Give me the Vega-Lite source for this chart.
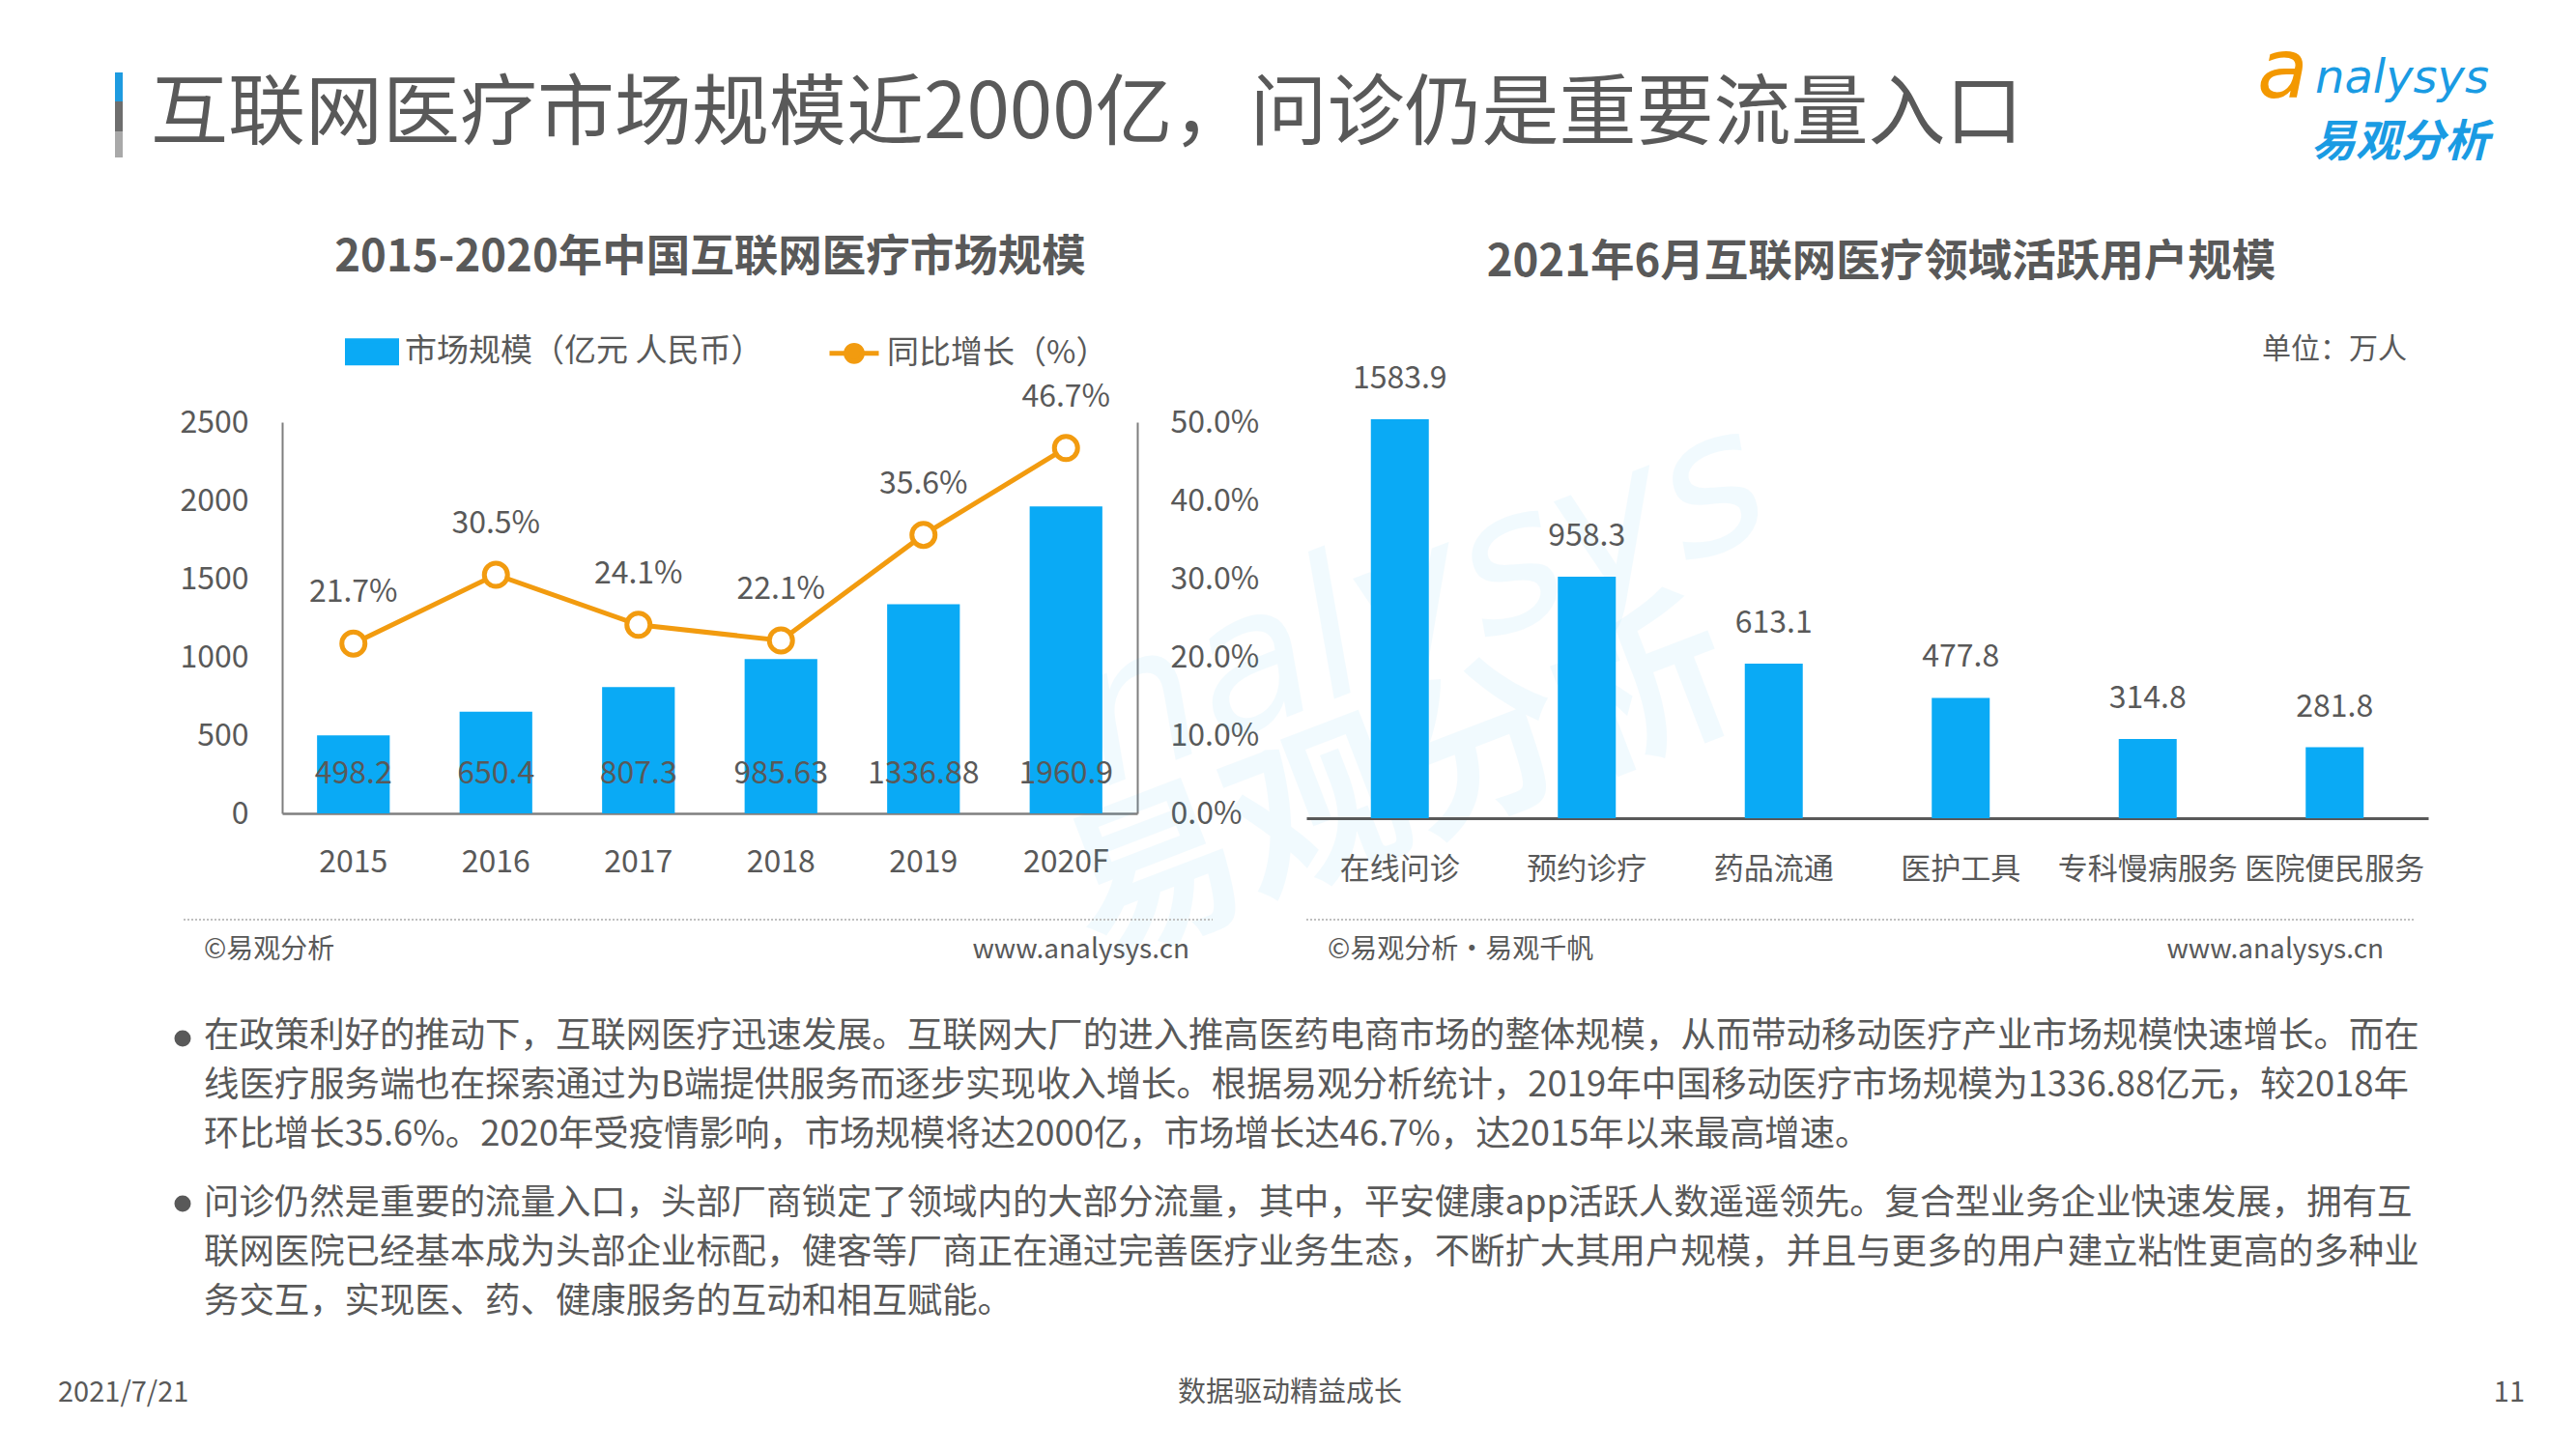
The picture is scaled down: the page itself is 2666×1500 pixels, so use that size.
{
  "$schema": "https://vega.github.io/schema/vega-lite/v6.json",
  "padding": 0,
  "background": "white",
  "bounds": "flush",
  "spacing": 175,
  "config": {
    "view": {"stroke": null},
    "font": "Noto Sans CJK SC",
    "text": {"font": "Noto Sans CJK SC", "color": "#595959"},
    "axis": {"labelFont": "Noto Sans CJK SC", "grid": false, "ticks": false, "title": null, "zindex": 1, "labelLimit": 0}
  },
  "datasets": {
    "market": [
      {"year": "2015", "size": 498.2, "growth": 0.217},
      {"year": "2016", "size": 650.4, "growth": 0.305},
      {"year": "2017", "size": 807.3, "growth": 0.241},
      {"year": "2018", "size": 985.63, "growth": 0.221},
      {"year": "2019", "size": 1336.88, "growth": 0.356},
      {"year": "2020F", "size": 1960.9, "growth": 0.467}
    ],
    "users": [
      {"cat": "在线问诊", "users": 1583.9},
      {"cat": "预约诊疗", "users": 958.3},
      {"cat": "药品流通", "users": 613.1},
      {"cat": "医护工具", "users": 477.8},
      {"cat": "专科慢病服务", "users": 314.8},
      {"cat": "医院便民服务", "users": 281.8}
    ],
    "one": [{"k": 1}]
  },
  "hconcat": [
    {
      "width": 885,
      "height": 405,
      "layer": [
        {"data": {"name": "one"}, "mark": {"type": "rect", "color": "white", "opacity": 0}, "encoding": {"x": {"value": -292}, "x2": {"value": 2374}, "y": {"value": -437}, "y2": {"value": 1063}}},
        {"data": {"name": "one"}, "mark": {"type": "text", "align": "center", "baseline": "middle", "fontSize": 200, "fontStyle": "italic", "color": "#0AAAF5", "opacity": 0.05, "angle": 339, "font": "DejaVu Sans"},
         "encoding": {"x": {"value": 1178}, "y": {"value": 188}, "text": {"value": "nalysys"}}},
        {"data": {"name": "one"}, "mark": {"type": "text", "align": "center", "baseline": "middle", "fontSize": 180, "fontWeight": "bold", "color": "#0AAAF5", "opacity": 0.05, "angle": 339},
         "encoding": {"x": {"value": 1158}, "y": {"value": 378}, "text": {"value": "易观分析"}}},
        {
          "data": {"name": "market"},
          "encoding": {
            "x": {
              "field": "year", "type": "ordinal", "sort": null,
              "scale": {"paddingInner": 0.49, "paddingOuter": 0.245},
              "axis": {"labelAngle": 0, "labelPadding": 35, "labelFontSize": 32, "labelColor": "#595959", "domainColor": "#7F7F7F", "domainWidth": 2.5}
            },
            "y": {
              "field": "size", "type": "quantitative",
              "scale": {"domain": [0, 2500]},
              "axis": {"values": [0, 500, 1000, 1500, 2000, 2500], "format": "d", "labelPadding": 35, "labelFontSize": 32, "labelColor": "#595959", "domainColor": "#7F7F7F", "domainWidth": 2}
            }
          },
          "layer": [
            {
              "mark": {"type": "bar"},
              "encoding": {
                "color": {
                  "datum": "市场规模（亿元 人民币）",
                  "scale": {"domain": ["市场规模（亿元 人民币）", "同比增长（%）"], "range": ["#0AAAF5", "#F29B0F"]},
                  "legend": {
                    "title": null, "orient": "none", "legendX": 65, "legendY": -101, "direction": "horizontal",
                    "symbolSize": 2601, "labelFontSize": 33, "labelColor": "#595959", "labelFont": "Noto Sans CJK SC", "labelLimit": 0,
                    "columnPadding": 58, "labelOffset": 6, "padding": 0, "symbolStrokeWidth": 5,
                    "encode": {
                      "symbols": {
                        "update": {
                          "shape": {"signal": "datum.value === '同比增长（%）' ? 'M-1,0H-0.33M0.33,0H1M0.33,0A0.33,0.33 0 1,1 -0.33,0A0.33,0.33 0 1,1 0.33,0' : 'M-1,-0.45H1V0.45H-1Z'"},
                          "fill": {"signal": "datum.value === '同比增长（%）' ? 'white' : '#0AAAF5'"},
                          "stroke": {"signal": "datum.value === '同比增长（%）' ? '#F29B0F' : 'transparent'"},
                          "strokeWidth": {"value": 5},
                          "opacity": {"value": 1}
                        }
                      }
                    }
                  }
                }
              }
            },
            {
              "mark": {"type": "text", "fontSize": 32, "color": "#595959", "baseline": "middle"},
              "encoding": {"y": {"datum": 253}, "text": {"field": "size", "type": "nominal"}}
            }
          ]
        },
        {
          "data": {"name": "market"},
          "encoding": {
            "x": {"field": "year", "type": "ordinal", "sort": null},
            "y": {
              "field": "growth", "type": "quantitative",
              "scale": {"domain": [0, 0.5]},
              "axis": {"orient": "right", "values": [0, 0.1, 0.2, 0.3, 0.4, 0.5], "format": ".1%", "labelPadding": 34, "labelFontSize": 32, "labelColor": "#595959", "domainColor": "#7F7F7F", "domainWidth": 2}
            }
          },
          "layer": [
            {"mark": {"type": "line", "strokeWidth": 5}, "encoding": {"color": {"datum": "同比增长（%）"}}},
            {"mark": {"type": "point", "shape": "circle", "size": 576, "strokeWidth": 5, "filled": false, "fill": "white", "opacity": 1}, "encoding": {"color": {"datum": "同比增长（%）"}}},
            {"mark": {"type": "text", "fontSize": 32, "color": "#595959", "baseline": "middle", "dy": -53}, "encoding": {"text": {"field": "growth", "type": "quantitative", "format": ".1%"}}}
          ]
        },
        {"data": {"name": "one"}, "mark": {"type": "rect", "color": "#1E9BE0"}, "encoding": {"x": {"value": -173}, "x2": {"value": -165}, "y": {"value": -362}, "y2": {"value": -332}}},
        {"data": {"name": "one"}, "mark": {"type": "rect", "color": "#6E6E6E"}, "encoding": {"x": {"value": -173}, "x2": {"value": -165}, "y": {"value": -332}, "y2": {"value": -301}}},
        {"data": {"name": "one"}, "mark": {"type": "rect", "color": "#A9A9A9"}, "encoding": {"x": {"value": -173}, "x2": {"value": -165}, "y": {"value": -301}, "y2": {"value": -274}}},
        {"data": {"name": "one"}, "mark": {"type": "text", "align": "left", "baseline": "middle", "fontSize": 80, "color": "#595959"},
         "encoding": {"x": {"value": -136}, "y": {"value": -318}, "text": {"value": "互联网医疗市场规模近2000亿，问诊仍是重要流量入口"}}},
        {"data": {"name": "one"}, "mark": {"type": "text", "align": "left", "baseline": "middle", "fontSize": 86, "fontStyle": "italic", "color": "#F39800", "font": "DejaVu Sans"},
         "encoding": {"x": {"value": 2044}, "y": {"value": -362}, "text": {"value": "a"}}},
        {"data": {"name": "one"}, "mark": {"type": "text", "align": "left", "baseline": "middle", "fontSize": 48, "fontStyle": "italic", "color": "#1A9BE3", "font": "DejaVu Sans"},
         "encoding": {"x": {"value": 2104}, "y": {"value": -355}, "text": {"value": "nalysys"}}},
        {"data": {"name": "one"}, "mark": {"type": "text", "align": "left", "baseline": "middle", "fontSize": 46, "fontWeight": "bold", "fontStyle": "italic", "color": "#1A9BE3"},
         "encoding": {"x": {"value": 2100}, "y": {"value": -289}, "text": {"value": "易观分析"}}},
        {"data": {"name": "one"}, "mark": {"type": "text", "align": "center", "baseline": "middle", "fontSize": 45.5, "fontWeight": "bold", "color": "#595959"},
         "encoding": {"x": {"value": 443}, "y": {"value": -170}, "text": {"value": "2015-2020年中国互联网医疗市场规模"}}},
        {"data": {"name": "one"}, "mark": {"type": "text", "align": "center", "baseline": "middle", "fontSize": 45.5, "fontWeight": "bold", "color": "#595959"},
         "encoding": {"x": {"value": 1655}, "y": {"value": -165}, "text": {"value": "2021年6月互联网医疗领域活跃用户规模"}}},
        {"data": {"name": "one"}, "mark": {"type": "text", "align": "right", "baseline": "middle", "fontSize": 30, "color": "#595959"},
         "encoding": {"x": {"value": 2199}, "y": {"value": -75}, "text": {"value": "单位：万人"}}},
        {"data": {"name": "one"}, "mark": {"type": "rule", "color": "#BFBFBF", "strokeWidth": 2, "strokeDash": [2, 2]}, "encoding": {"x": {"value": -102}, "x2": {"value": 963}, "y": {"value": 515}}},
        {"data": {"name": "one"}, "mark": {"type": "rule", "color": "#BFBFBF", "strokeWidth": 2, "strokeDash": [2, 2]}, "encoding": {"x": {"value": 1060}, "x2": {"value": 2208}, "y": {"value": 515}}},
        {"data": {"name": "one"}, "mark": {"type": "text", "align": "left", "baseline": "middle", "fontSize": 28, "color": "#595959"}, "encoding": {"x": {"value": -81}, "y": {"value": 547}, "text": {"value": "©易观分析"}}},
        {"data": {"name": "one"}, "mark": {"type": "text", "align": "right", "baseline": "middle", "fontSize": 28, "color": "#595959"}, "encoding": {"x": {"value": 939}, "y": {"value": 547}, "text": {"value": "www.analysys.cn"}}},
        {"data": {"name": "one"}, "mark": {"type": "text", "align": "left", "baseline": "middle", "fontSize": 28, "color": "#595959"}, "encoding": {"x": {"value": 1082}, "y": {"value": 547}, "text": {"value": "©易观分析・易观千帆"}}},
        {"data": {"name": "one"}, "mark": {"type": "text", "align": "right", "baseline": "middle", "fontSize": 28, "color": "#595959"}, "encoding": {"x": {"value": 2175}, "y": {"value": 547}, "text": {"value": "www.analysys.cn"}}},
        {"data": {"name": "one"}, "mark": {"type": "point", "shape": "circle", "filled": true, "size": 289, "color": "#595959", "opacity": 1}, "encoding": {"x": {"value": -103}, "y": {"value": 638}}},
        {"data": {"name": "one"}, "mark": {"type": "point", "shape": "circle", "filled": true, "size": 289, "color": "#595959", "opacity": 1}, "encoding": {"x": {"value": -103}, "y": {"value": 809}}},
        {"data": {"name": "one"}, "mark": {"type": "text", "align": "left", "baseline": "middle", "fontSize": 36.4, "lineHeight": 51, "color": "#595959"},
         "encoding": {"x": {"value": -81}, "y": {"value": 636}, "text": {"value": ["在政策利好的推动下，互联网医疗迅速发展。互联网大厂的进入推高医药电商市场的整体规模，从而带动移动医疗产业市场规模快速增长。而在", "线医疗服务端也在探索通过为B端提供服务而逐步实现收入增长。根据易观分析统计，2019年中国移动医疗市场规模为1336.88亿元，较2018年", "环比增长35.6%。2020年受疫情影响，市场规模将达2000亿，市场增长达46.7%，达2015年以来最高增速。"]}}},
        {"data": {"name": "one"}, "mark": {"type": "text", "align": "left", "baseline": "middle", "fontSize": 36.4, "lineHeight": 51, "color": "#595959"},
         "encoding": {"x": {"value": -81}, "y": {"value": 809}, "text": {"value": ["问诊仍然是重要的流量入口，头部厂商锁定了领域内的大部分流量，其中，平安健康app活跃人数遥遥领先。复合型业务企业快速发展，拥有互", "联网医院已经基本成为头部企业标配，健客等厂商正在通过完善医疗业务生态，不断扩大其用户规模，并且与更多的用户建立粘性更高的多种业", "务交互，实现医、药、健康服务的互动和相互赋能。"]}}},
        {"data": {"name": "one"}, "mark": {"type": "text", "align": "left", "baseline": "middle", "fontSize": 29, "color": "#595959"}, "encoding": {"x": {"value": -232}, "y": {"value": 1005}, "text": {"value": "2021/7/21"}}},
        {"data": {"name": "one"}, "mark": {"type": "text", "align": "center", "baseline": "middle", "fontSize": 29, "color": "#595959"}, "encoding": {"x": {"value": 1043}, "y": {"value": 1005}, "text": {"value": "数据驱动精益成长"}}},
        {"data": {"name": "one"}, "mark": {"type": "text", "align": "right", "baseline": "middle", "fontSize": 29, "color": "#595959"}, "encoding": {"x": {"value": 2321}, "y": {"value": 1005}, "text": {"value": "11"}}}
      ],
      "resolve": {"scale": {"y": "independent"}}
    },
    {
      "width": 1161,
      "height": 410,
      "data": {"name": "users"},
      "encoding": {
        "x": {
          "field": "cat", "type": "nominal", "sort": null,
          "scale": {"paddingInner": 0.69, "paddingOuter": 0.345},
          "axis": {"labelAngle": 0, "labelPadding": 38, "labelFontSize": 31, "labelColor": "#595959", "domainColor": "#595959", "domainWidth": 3}
        },
        "y": {"field": "users", "type": "quantitative", "scale": {"domain": [0, 1572]}, "axis": null}
      },
      "layer": [
        {"mark": {"type": "bar", "color": "#0AAAF5"}},
        {"mark": {"type": "text", "fontSize": 32, "color": "#595959", "baseline": "middle", "dy": -42}, "encoding": {"text": {"field": "users", "type": "nominal"}}}
      ]
    }
  ]
}
